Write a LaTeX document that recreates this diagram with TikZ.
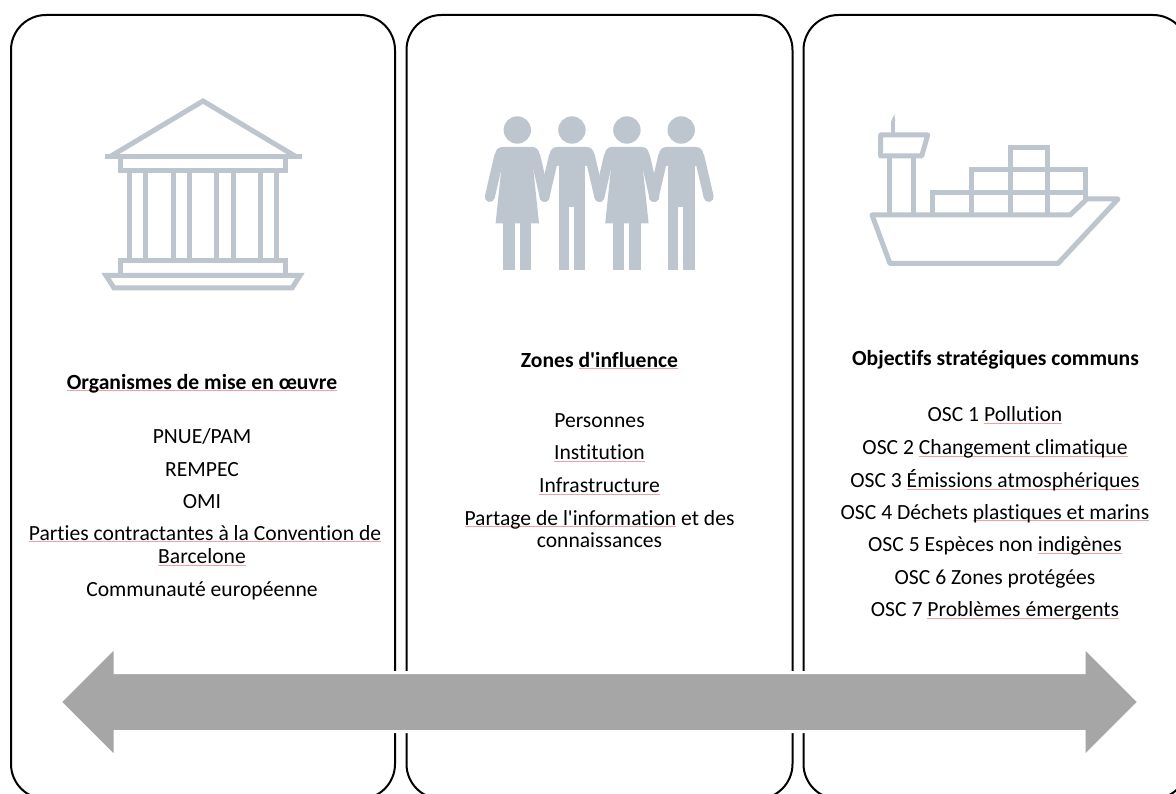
\documentclass[tikz,border=0pt]{standalone}
\usepackage{fontspec}
\setmainfont{Carlito}[Ligatures={TeX,NoCommon}]
\definecolor{iconcol}{HTML}{BDC6CF}
\definecolor{arrcol}{HTML}{A6A6A6}
\definecolor{squigcol}{HTML}{F2A0A0}
\newsavebox\sqgbox
\newcommand\sqg[1]{\sbox\sqgbox{#1}\rlap{\textcolor{squigcol}{\rule[-2.2pt]{\wd\sqgbox}{0.9pt}}}\usebox\sqgbox}
\newcommand\mywoman[1]{%
  \fill[iconcol] (#1,130) circle (13.7);
  \fill[iconcol, rounded corners=7] ({#1-22},166) -- ({#1-22},147) -- ({#1+22},147) -- ({#1+22},166) -- cycle;
  \draw[iconcol, line width=10, line cap=round] ({#1-18},156) -- ({#1-27.5},197);
  \draw[iconcol, line width=10, line cap=round] ({#1+18},156) -- ({#1+27.5},197);
  \fill[iconcol] ({#1-14},150) -- ({#1+14},150) -- ({#1+21.7},223.3) -- ({#1-21.7},223.3) -- cycle;
  \fill[iconcol] ({#1-14},222) rectangle ({#1-2.5},270);
  \fill[iconcol] ({#1+2.5},222) rectangle ({#1+14},270);}
\newcommand\myman[1]{%
  \fill[iconcol] (#1,130) circle (13.7);
  \fill[iconcol, rounded corners=7] ({#1-22},166) -- ({#1-22},147) -- ({#1+22},147) -- ({#1+22},166) -- cycle;
  \draw[iconcol, line width=10, line cap=round] ({#1-18},156) -- ({#1-27.5},197);
  \draw[iconcol, line width=10, line cap=round] ({#1+18},156) -- ({#1+27.5},197);
  \fill[iconcol] ({#1-13.4},150) rectangle ({#1+13.4},207);
  \fill[iconcol] ({#1-13.4},205) rectangle ({#1-3.3},270);
  \fill[iconcol] ({#1+1.7},205) rectangle ({#1+13.4},270);}
\begin{document}
\begin{tikzpicture}[x=1pt,y=-1pt,
  panel/.style={draw=black, line width=2pt, rounded corners=35pt},
  txt/.style={font=\fontsize{21.6}{25}\selectfont, inner sep=0pt, anchor=base},
  hd/.style={txt, font=\fontsize{21.6}{25}\selectfont\bfseries},
  icn/.style={draw=iconcol, line width=5pt},
  bigarrow/.style={fill=arrcol, draw=white, line width=3pt}]
\useasboundingbox (0,0) rectangle (1176,794);
\fill[white] (0,0) rectangle (1176,794);
% panels
\begin{scope}
\clip (0,0) rectangle (1176,794);
\draw[panel] (11,15) rectangle (395,799);
\draw[panel] (406.5,15) rectangle (792.5,799);
\draw[panel] (803.5,15) rectangle (1188,799);
\end{scope}
% temple icon
\draw[icn, line join=miter] (110,156.7) -- (203,101) -- (296,156.7);
\draw[icn] (105,156.7) -- (302,156.7);
\draw[icn] (120.7,156.7) rectangle (285,170.7);
\foreach \cx in {129.2,145.2,173.2,189.2,216.8,233.2,260.8,276.8}
  \draw[icn, line cap=butt] (\cx,170.7) -- (\cx,260.8);
\draw[icn] (120.7,260.8) -- (285,260.8);
\draw[icn] (120.7,258.3) -- (120.7,275.5);
\draw[icn] (285,258.3) -- (285,275.5);
\draw[icn, line join=miter] (106,275.5) -- (300,275.5) -- (292,288) -- (114,288) -- cycle;
% people icon
\mywoman{517.3}
\myman{571.9}
\mywoman{626.9}
\myman{681.2}
% ship icon
\draw[icn, line join=round] (872,215) -- (1070,215) -- (1087,199) -- (1118,199) -- (1058,263.5) -- (890,263.5) -- cycle;
\draw[icn] (889.5,156) -- (889.5,215);
\draw[icn] (913.3,156) -- (913.3,215);
\draw[icn, line join=round] (880.7,156) -- (880.7,135) -- (927.7,135) -- (921.7,156) -- cycle;
\draw[iconcol, line width=4pt] (893.3,135) -- (893.3,121);
\fill[iconcol] (891.3,121) -- (895.3,121) -- (894.3,114) -- cycle;
\draw[icn] (932.7,215) -- (932.7,192.3) -- (1085,192.3) -- (1085,201);
\foreach \cx in {971,1010,1047.7}
  \draw[icn] (\cx,192.3) -- (\cx,215);
\draw[icn] (971,192.3) -- (971,170) -- (1085,170) -- (1085,192.3);
\foreach \cx in {1010,1047.7}
  \draw[icn] (\cx,170) -- (\cx,192.3);
\draw[icn] (1010,170) -- (1010,147.7) -- (1047.7,147.7) -- (1047.7,170);
% texts panel 1
\node[hd] (h1) at (202,389) {\sqg{Organismes de mise en œuvre}};
\node[txt] (p1a) at (202,443.3) {PNUE/PAM};
\node[txt] (p1b) at (202,476) {REMPEC};
\node[txt] (p1c) at (202,508.3) {OMI};
\node[txt] (p1d) at (205,540) {\sqg{Parties contractantes à la Convention de}};
\node[txt] (p1e) at (202,563.3) {\sqg{Barcelone}};
\node[txt] (p1f) at (202,596) {Communauté européenne};
% texts panel 2
\node[hd] (h2) at (599.5,367) {Zones \sqg{d\textquotesingle influence}};
\node[txt] (p2a) at (599.5,427.3) {Personnes};
\node[txt] (p2b) at (599.5,459.3) {\sqg{Institution}};
\node[txt] (p2c) at (599.5,492.7) {\sqg{Infrastructure}};
\node[txt] (p2d) at (599.5,525) {\sqg{Partage de l\textquotesingle information} et des};
\node[txt] (p2e) at (599.5,547.3) {connaissances};
% texts panel 3
\node[hd] (h3) at (995.5,366) {Objectifs stratégiques communs};
\node[txt] (p3a) at (995,421.7) {OSC 1 \sqg{Pollution}};
\node[txt] (p3b) at (995,454.3) {OSC 2 \sqg{Changement climatique}};
\node[txt] (p3c) at (995,487.3) {OSC 3 \sqg{Émissions atmosphériques}};
\node[txt] (p3d) at (995,519) {OSC 4 Déchets \sqg{plastiques et marins}};
\node[txt] (p3e) at (995,551.7) {OSC 5 Espèces non \sqg{indigènes}};
\node[txt] (p3f) at (995,584.3) {OSC 6 Zones protégées};
\node[txt] (p3g) at (995,616.7) {OSC 7 \sqg{Problèmes émergents}};
% double arrow
\filldraw[bigarrow] (60,702) -- (115,647) -- (115,672.5) -- (1084,672.5) -- (1084,647) -- (1139,702) -- (1084,757) -- (1084,731.5) -- (115,731.5) -- (115,757) -- cycle;
\end{tikzpicture}
\end{document}
